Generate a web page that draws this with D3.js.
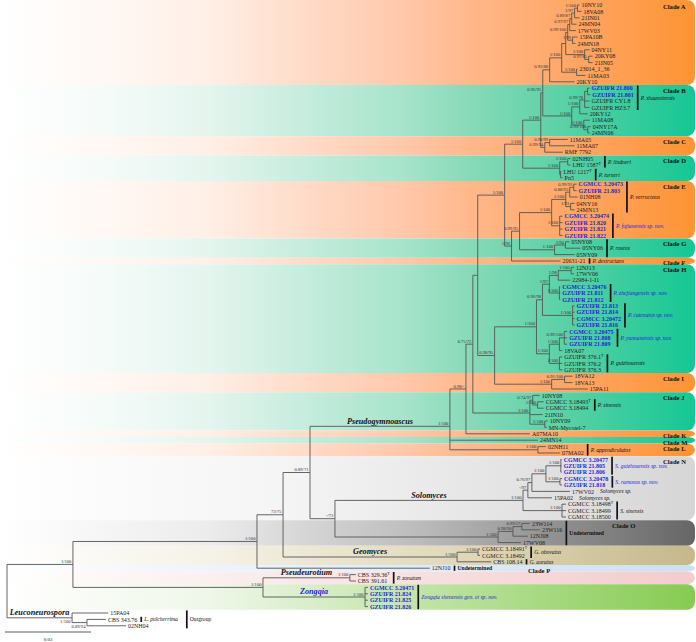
<!DOCTYPE html>
<html><head><meta charset="utf-8">
<script src="https://cdn.jsdelivr.net/npm/d3@7"></script>
<style>
body{margin:0;background:#fff}
svg{display:block}
text{font-family:"Liberation Serif","Times New Roman",serif}
</style>
</head><body><svg id="c" width="696" height="642"></svg>
<script>
// ================= DATA =================
// Subtrees in Newick: branch lengths = substitutions/site, internal labels = PP/BS support
const cladeA = "((((((((10NY10:0.0007,18VA08:0.0014)1/100:0.0010,21IN01:0.0017)1/97:0.0010,24MN04:0.0017)0.89/87:0.0007,17WV03:0.0021)0.97/97:0.0007,(15PA10B:0.0017,24MN18:0.0010)1/99:0.0017)0.99/100:0.0007,(04NY11:0.0017,(20KY08:0.0014,21IN05:0.0014)0.97/85:0.0014)1/100:0.0066):0.0014,(23014_1_36:0.0003,11MA03:0.0031)1/100:0.0052)1/100:0.0042,20KY10:0.0087)0.92/88";
const cladeB = "((((GZUIFR 21.800:0.0007,GZUIFR 21.801:0.0010):0.0010,GZUIFR CY1.8:0.0017,GZUIFR HZ3.7:0.0017)0.99/78:0.0017,20KY12:0.0028)1/100:0.0028,(11MA08:0.0021,(04NY17A:0.0010,24MN06:0.0007)0.99/100:0.0014)1/100:0.0042)1/100";
const cladeC = "((11MA05:0.0063,11MA07:0.0087)0.98/99:0.0017,RMF 7792:0.0063)0.99/94";
const cladeD = "((02NH05:0.0010,LHU 1587^T:0.0010)1/100:0.0028,(LHU 1217^T:0.0003,Pn5:0.0007):0.0003)1/100";
const cladeE = "((((CGMCC 3.20473:0.0010,GZUIFR 21.803:0.0010)0.99/93:0.0014,01NH08:0.0028)0.88/93:0.0014,(04NY16:0.0014,24MN13:0.0014)1/93:0.0017)1/100:0.0049,(CGMCC 3.20474:0.0010,GZUIFR 21.820:0.0010,GZUIFR 21.821:0.0010,GZUIFR 21.822:0.0010)1/100:0.0028)1/100";
const cladeG = "((05NY08:0.0014,05NY06:0.0052)1/94:0.0038,05NY09:0.0070)1/100";
const cladeF = "20631-21";
const cladeH = "(((((12NJ13:0.0010,17WV06:0.0010)1/100:0.0045,22984-1-I1:0.0042)1/98:0.0031,(CGMCC 3.20476:0.0003,GZUIFR 21.811:0.0003,GZUIFR 21.812:0.0003)1/100:0.0035)1/97:0.0024,(GZUIFR 21.813:0.0007,GZUIFR 21.814:0.0007,CGMCC 3.20472:0.0007,GZUIFR 21.816:0.0007)1/100:0.0105)0.96/98:0.0021,(((CGMCC 3.20475:0.0010,GZUIFR 21.808:0.0010,GZUIFR 21.809:0.0010)0.99/100:0.0017,18VA07:0.0010)1/100:0.0035,(GZUIFR 376.1^T:0.0010,GZUIFR 376.2:0.0010,GZUIFR 376.3:0.0010)1/100:0.0035)1/100:0.0045)1/100";
const cladeI = "((18VA12:0.0028,18VA13:0.0028)0.91/100:0.0045,15PA11:0.0126)1/100";
const cladeJ = "((10NY08:0.0024,(CGMCC 3.18493^T:0.0021,CGMCC 3.18494:0.0021)1/100:0.0017)0.74/97:0.0010,21IN10:0.0045,(10NY09:0.0010,MN-Mycotel-7:0.0007)1/100:0.0052)1/100";
const cladeL = "(02NH11:0.0028,07MA02:0.0077)1/100";
const cladeN = "(((((CGMCC 3.20477:0.0003,GZUIFR 21.805:0.0003,GZUIFR 21.806:0.0003)1/100:0.0052,(CGMCC 3.20478:0.0007,GZUIFR 21.818:0.0007)1/100:0.0049)1/100:0.0049,17WV02:0.0133)0.76/97:0.0014,15PA02:0.0084)-/97:0.0017,(CGMCC 3.18498^T:0.0014,CGMCC 3.18499:0.0014,CGMCC 3.18500:0.0014)1/100:0.0136)1/100";
const cladeO = "(((23W114:0.0028,23W116:0.0063)0.99/57:0.0031,12NJ08:0.0052)0.98/90:0.0052,17WV08:0.0080)1/100";
const geomycesClade = "((CGMCC 3.18491^T:0.0007,CGMCC 3.18492:0.0007)1/100:0.0073,CBS 108.14:0.0119)1/100";
const pseudeurotiumClade = "(CBS 329.36^T:0.0021,CBS 391.61:0.0021)1/100";
const zongqiaClade = "(CGMCC 3.20471:0.0010,GZUIFR 21.824:0.0010,GZUIFR 21.825:0.0010,GZUIFR 21.826:0.0010)1/100";
const outgroupClade = "(15PA04:0.0126,(CBS 343.76:0.0066,02NH04:0.0136)0.89/94:0.0052)1/100";

// backbone
const nAB = "(" + cladeA + ":0.0024," + cladeB + ":0.0101)0.96/95";
const nABC = "(" + nAB + ":0.0007," + cladeC + ":0.0014)1/100";
const nAD = "(" + nABC + ":0.0063," + cladeD + ":0.0129)1/100";
const nEG = "(" + cladeE + ":0.0112," + cladeG + ":0.0122)0.99/95";
const nEGF = "(" + nEG + ":0.0028," + cladeF + ":0.0171)1/96";
const nAG = "(" + nAD + ":0.0063," + nEGF + ":0.0024)1/100";
const nHI = "(" + cladeH + ":0.0146," + cladeI + ":0.0199)0.98/95";
const nAI = "(" + nAG + ":0.0094," + nHI + ":0.0059)";
const nAJ = "(" + nAI + ":0.0017," + cladeJ + ":0.0199)0.75/72";
const nAK = "(" + nAJ + ":0.0024,A07MA10:0.0223)0.98/-";
const nPG = "(" + nAK + ":0.0056,24MN14:0.0307," + cladeL + ":0.0307)1/100";
const nSO = "(" + cladeN + ":0.0656," + cladeO + ":0.0569)-/72";
const nX3 = "(" + nPG + ":0.0488," + nSO + ":0.0087)0.89/71";
const nX2 = "(" + nX3 + ":0.0094," + geomycesClade + ":0.0607)72/75";
const nX1 = "(" + nX2 + ":0.0091,12NJ10:0.0603)1/100";
const nPZ = "(" + pseudeurotiumClade + ":0.0303," + zongqiaClade + ":0.0356)1/100";
const nIng = "(" + nX1 + ":0.0642," + nPZ + ":0.0663)1/100";
const treeNewick = "(" + nIng + ":0.0230," + outgroupClade + ":0.0227);";

// novel strains (shown in blue)
const novelStrains = ["GZUIFR 21.800","GZUIFR 21.801","CGMCC 3.20473","GZUIFR 21.803","CGMCC 3.20474","GZUIFR 21.820","GZUIFR 21.821","GZUIFR 21.822","CGMCC 3.20476","GZUIFR 21.811","GZUIFR 21.812","GZUIFR 21.813","GZUIFR 21.814","CGMCC 3.20472","GZUIFR 21.816","CGMCC 3.20475","GZUIFR 21.808","GZUIFR 21.809","CGMCC 3.20477","GZUIFR 21.805","GZUIFR 21.806","CGMCC 3.20478","GZUIFR 21.818","CGMCC 3.20471","GZUIFR 21.824","GZUIFR 21.825","GZUIFR 21.826"];

// shaded bands (clades / genera)
const bandNames = ["Clade A","Clade B","Clade C","Clade D","Clade E","Clade G","Clade F","Clade H","Clade I","Clade J","Clade K","Clade M","Clade L","Clade N","Clade O","Geomyces","Clade P","Pseudeurotium","Zongqia"];
const bandFirst = ["10NY10","GZUIFR 21.800","11MA05","02NH05","CGMCC 3.20473","05NY08","20631-21","12NJ13","18VA12","10NY08","A07MA10","24MN14","02NH11","CGMCC 3.20477","23W114","CGMCC 3.18491^T","12NJ10","CBS 329.36^T","CGMCC 3.20471"];
const bandLast = ["20KY10","24MN06","RMF 7792","Pn5","GZUIFR 21.822","05NY09","20631-21","GZUIFR 376.3","15PA11","MN-Mycotel-7","A07MA10","24MN14","07MA02","CGMCC 3.18500","17WV08","CBS 108.14","12NJ10","CBS 391.61","GZUIFR 21.826"];

// species annotations (bar + name)
const speciesNames = ["P. shaanxiensis","P. lindneri","P. turneri","P. verrucosus","P. fujianensis sp. nov.","P. roseus","P. destructans","P. zhejiangensis sp. nov.","P. catenatus sp. nov.","P. yunnanensis sp. nov.","P. guizhouensis","P. sinensis","P. appendiculatus","S. guizhouensis sp. nov.","S. ramosus sp. nov.","Solomyces sp.","Solomyces sp.","S. sinensis","Undetermined","G. obovatus","G. auratus","Undetermined","P. zonatum","Zongqia shenensis gen. et sp. nov.","L. pulcherrima","Outgroup"];
const speciesFirst = ["GZUIFR 21.800","02NH05","LHU 1217^T","CGMCC 3.20473","CGMCC 3.20474","05NY08","20631-21","CGMCC 3.20476","GZUIFR 21.813","CGMCC 3.20475","GZUIFR 376.1^T","CGMCC 3.18493^T","02NH11","CGMCC 3.20477","CGMCC 3.20478","17WV02","15PA02","CGMCC 3.18498^T","23W114","CGMCC 3.18491^T","CBS 108.14","12NJ10","CBS 329.36^T","CGMCC 3.20471","CBS 343.76","15PA04"];
const speciesLast = ["GZUIFR HZ3.7","LHU 1587^T","Pn5","24MN13","GZUIFR 21.822","05NY09","20631-21","GZUIFR 21.812","GZUIFR 21.816","GZUIFR 21.809","GZUIFR 376.3","CGMCC 3.18494","07MA02","GZUIFR 21.806","GZUIFR 21.818","17WV02","15PA02","CGMCC 3.18500","17WV08","CGMCC 3.18492","CBS 108.14","12NJ10","CBS 391.61","GZUIFR 21.826","CBS 343.76","02NH04"];

// genus labels on stems (MRCA of two tips)
const genusNames = ["Pseudogymnoascus","Solomyces","Geomyces","Pseudeurotium","Zongqia","Leuconeurospora"];
const genusTipA = ["10NY10","CGMCC 3.20477","CGMCC 3.18491^T","CBS 329.36^T","CGMCC 3.20471","15PA04"];
const genusTipB = ["07MA02","CGMCC 3.18500","CBS 108.14","CBS 391.61","GZUIFR 21.826","02NH04"];
const novelGenera = ["Zongqia"];

const scaleBarValue = 0.03;

// ================= PARSE =================
function parseNewick(s){
  let i = 0;
  function node(){
    const n = {children: []};
    if (s[i] === "("){
      i++;
      n.children.push(node());
      while (s[i] === ","){ i++; n.children.push(node()); }
      i++;
    }
    let name = "";
    while (i < s.length && !",():;".includes(s[i])) name += s[i++];
    n.name = name.trim();
    if (s[i] === ":"){
      i++; let num = "";
      while (i < s.length && !",();".includes(s[i])) num += s[i++];
      n.length = +num;
    } else n.length = 0;
    return n;
  }
  return node();
}
const root = d3.hierarchy(parseNewick(treeNewick), d => d.children.length ? d.children : null);
root.eachBefore(n => { n.dist = n.parent ? n.parent.dist + n.data.length : 0; });
const leaves = root.leaves();

// ================= SCALES =================
const x = d3.scaleLinear().domain([0, scaleBarValue]).range([7, 7 + 86]);
const y = d3.scaleLinear().domain([0, leaves.length - 1]).range([5, 5 + 6.4 * (leaves.length - 1)]);
const step = y(1) - y(0);
const leafIndex = new Map();
leaves.forEach((l, i) => { l.y = y(i); leafIndex.set(l.data.name, i); });
root.eachAfter(n => { if (n.children) n.y = d3.mean(n.children, c => c.y); });
root.each(n => { n.x = x(n.dist); });
const outgroupRoot = root.children[1];
const outgroupNodes = new Set(outgroupRoot.descendants());

const svg = d3.select("#c");

// ================= BANDS =================
const palettes = {
  orange: [[0,"#ffffff"],[0.15,"#fff8f4"],[0.3,"#ffefe6"],[0.58,"#ffc8aa"],[0.68,"#ffb78a"],[0.85,"#ffa35e"],[1,"#fd9433"]],
  teal:   [[0,"#ffffff"],[0.15,"#f5fbf9"],[0.3,"#e4f5ee"],[0.58,"#a6e4cb"],[0.68,"#86d9b7"],[0.85,"#4ccfa2"],[1,"#14c794"]],
  lgray:  [[0,"#ffffff"],[0.4,"#f5f5f5"],[1,"#d6d6d6"]],
  dgray:  [[0,"#ffffff"],[0.3,"#ececec"],[0.6,"#bcbcbc"],[1,"#666666"]],
  tan:    [[0,"#ffffff"],[0.3,"#f5f2e8"],[0.7,"#ddd5b3"],[1,"#c5b98a"]],
  blue:   [[0,"#ffffff"],[0.3,"#eef4fb"],[1,"#cce0f3"]],
  pink:   [[0,"#ffffff"],[0.3,"#fcefef"],[1,"#f3cccc"]],
  green:  [[0,"#ffffff"],[0.3,"#eff7e9"],[0.7,"#b3de92"],[1,"#86cb52"]]
};
const bandPalette = {"Clade A":"orange","Clade B":"teal","Clade C":"orange","Clade D":"teal","Clade E":"orange","Clade G":"teal","Clade F":"orange","Clade H":"teal","Clade I":"orange","Clade J":"teal","Clade K":"orange","Clade M":"teal","Clade L":"orange","Clade N":"lgray","Clade O":"dgray","Geomyces":"tan","Clade P":"blue","Pseudeurotium":"pink","Zongqia":"green"};
const defs = svg.append("defs");
Object.entries(palettes).forEach(([k, stops]) => {
  const g = defs.append("linearGradient").attr("id", "g_" + k)
    .attr("gradientUnits", "userSpaceOnUse").attr("x1", 0).attr("x2", 695).attr("y1", 0).attr("y2", 0);
  stops.forEach(s => g.append("stop").attr("offset", s[0]).attr("stop-color", s[1]));
});
const gBands = svg.append("g");
bandNames.forEach((b, i) => {
  let y0 = y(leafIndex.get(bandFirst[i])) - step / 2;
  const y1 = y(leafIndex.get(bandLast[i])) + step / 2;
  if (i === 0) y0 = 0;
  gBands.append("rect").attr("x", -20).attr("y", y0).attr("width", 695 + 20).attr("height", y1 - y0)
    .attr("rx", 8).attr("fill", "url(#g_" + bandPalette[b] + ")");
});

// ================= TREE =================
const gTree = svg.append("g").attr("fill", "none").attr("stroke", "#555").attr("stroke-width", 0.9);
root.descendants().forEach(n => {
  if (n.parent) gTree.append("line").attr("x1", n.parent.x).attr("x2", n.x).attr("y1", n.y).attr("y2", n.y);
  if (n.children) gTree.append("line").attr("x1", n.x).attr("x2", n.x)
    .attr("y1", n.children[0].y).attr("y2", n.children[n.children.length - 1].y);
});

// support values (outgroup values sit below their branches)
const gSup = svg.append("g").attr("font-size", "4.6px").attr("fill", "#333").attr("text-anchor", "end");
root.descendants().forEach(n => {
  if (!(n.children && n.data.name)) return;
  const below = outgroupNodes.has(n);
  gSup.append("text").attr("x", n.x - 1.5).attr("y", below ? n.y + 5.2 : n.y - 1.4).text(n.data.name);
});

// tip labels
const BLUE = "#1f1fd8";
const occupied = new Map();
const gTips = svg.append("g").attr("font-size", "6px");
function addName(sel, name){
  const base = name.replace("^T", "");
  sel.append("tspan").text(base);
  if (name.endsWith("^T")) sel.append("tspan").attr("font-size", "4px").attr("dy", "-2").text("T");
}
leaves.forEach(l => {
  const name = l.data.name;
  const novel = novelStrains.includes(name);
  const t = gTips.append("text").attr("x", l.x + 2).attr("y", l.y).attr("dy", "0.35em")
    .attr("fill", novel ? BLUE : "#222").attr("font-weight", novel ? "bold" : "normal");
  addName(t, name);
  occupied.set(name, l.x + 2 + t.node().getComputedTextLength());
});

// species annotations
const gAnn = svg.append("g");
speciesNames.forEach((sp, i) => {
  const a = leafIndex.get(speciesFirst[i]), b = leafIndex.get(speciesLast[i]);
  const names = leaves.slice(a, b + 1).map(l => l.data.name);
  const maxX = d3.max(names, nm => occupied.get(nm));
  const noBar = sp.endsWith(" sp.");
  const isNew = sp.includes("nov.");
  const undet = sp === "Undetermined" || sp === "Outgroup";
  let tx;
  if (noBar) tx = maxX + 6;
  else {
    const bx = maxX + (sp === "Outgroup" ? 9 : 4);
    gAnn.append("line").attr("x1", bx).attr("x2", bx)
      .attr("y1", y(a) - step / 2 + 0.6).attr("y2", y(b) + step / 2 - 0.6)
      .attr("stroke", "#111").attr("stroke-width", 1.7);
    tx = bx + 3;
  }
  const t = gAnn.append("text").attr("x", tx).attr("y", (y(a) + y(b)) / 2).attr("dy", "0.35em")
    .attr("font-size", "5.6px")
    .attr("font-style", undet ? "normal" : "italic")
    .attr("font-weight", sp === "Undetermined" ? "bold" : "normal")
    .attr("fill", isNew ? BLUE : "#111").text(sp);
  const end = tx + t.node().getComputedTextLength();
  names.forEach(nm => occupied.set(nm, end));
});

// clade labels
const cladeLabelX = {"Clade O": 612, "Clade P": 528};
const gClade = svg.append("g").attr("font-size", "6.6px").attr("font-weight", "bold").attr("fill", "#111");
bandNames.forEach((b, i) => {
  if (!b.startsWith("Clade")) return;
  gClade.append("text").attr("x", cladeLabelX[b] || 663)
    .attr("y", y(leafIndex.get(bandFirst[i])) + 2).attr("dy", "0.35em").text(b);
});

// genus labels
const leafByName = new Map(leaves.map(l => [l.data.name, l]));
const gGen = svg.append("g").attr("font-size", "8.2px").attr("font-weight", "bold").attr("font-style", "italic").attr("text-anchor", "middle");
genusNames.forEach((gname, i) => {
  const n = leafByName.get(genusTipA[i]).path(leafByName.get(genusTipB[i]))
    .reduce((best, c) => (c.depth < best.depth ? c : best));
  gGen.append("text").attr("x", (n.parent.x + n.x) / 2).attr("y", n.y - 2.6)
    .attr("fill", novelGenera.includes(gname) ? BLUE : "#111").text(gname);
});

// scale bar
const sb = svg.append("g");
sb.append("line").attr("x1", 5).attr("x2", 5 + x(scaleBarValue) - x(0)).attr("y1", 632).attr("y2", 632)
  .attr("stroke", "#333").attr("stroke-width", 0.8);
sb.append("text").attr("x", 5 + (x(scaleBarValue) - x(0)) / 2).attr("y", 641).attr("font-size", "5px")
  .attr("text-anchor", "middle").attr("fill", "#222").text(String(scaleBarValue));
</script></body></html>
